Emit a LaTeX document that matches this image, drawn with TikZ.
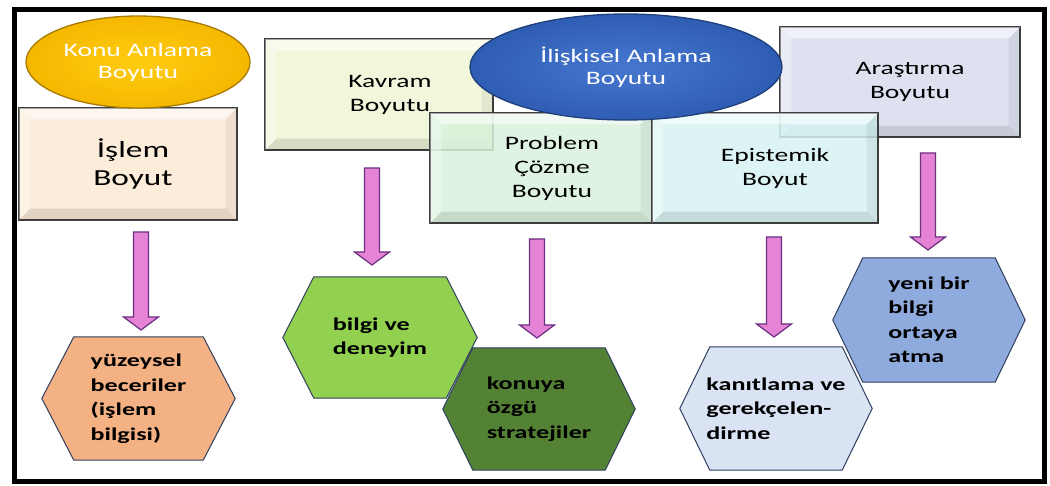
\documentclass[tikz,border=0pt]{standalone}
\usepackage{fontspec}
\setmainfont[FakeStretch=1.45]{Carlito}
\usetikzlibrary{calc,shapes.geometric}
\pgfdeclarelayer{back}
\pgfdeclarelayer{hexbg}
\pgfsetlayers{back,hexbg,main}
\definecolor{boxline}{HTML}{3F3F3F}
\definecolor{islemc}{HTML}{FCE9D4}
\definecolor{kavramc}{HTML}{EEF6D5}
\definecolor{problemc}{HTML}{D9F2DC}
\definecolor{episc}{HTML}{D6F3F3}
\definecolor{arasc}{HTML}{D9DCEE}
\definecolor{yel}{HTML}{F5B800}
\definecolor{yelin}{HTML}{FFCC10}
\definecolor{yelline}{HTML}{A87A00}
\definecolor{blu}{HTML}{2F5DB3}
\definecolor{bluin}{HTML}{4677CF}
\definecolor{bluline}{HTML}{1F3F7A}
\definecolor{arrfill}{HTML}{E584D6}
\definecolor{arrline}{HTML}{6B2E80}
\definecolor{hexa}{HTML}{F4B183}
\definecolor{hexb}{HTML}{92D050}
\definecolor{hexc}{HTML}{548235}
\definecolor{hexd}{HTML}{DAE3F3}
\definecolor{hexe}{HTML}{8FAADC}
\definecolor{hexline}{HTML}{2F3F5F}
\newcommand\bevelof[1]{%
  \fill[white,opacity=0.55] (#1.north west) -- (#1.north east) -- ($(#1.north east)+(-12,12)$) -- ($(#1.north west)+(12,12)$) -- cycle;
  \fill[white,opacity=0.35] (#1.north west) -- ($(#1.north west)+(12,12)$) -- ($(#1.south west)+(12,-12)$) -- (#1.south west) -- cycle;
  \fill[black,opacity=0.10] (#1.south west) -- ($(#1.south west)+(12,-12)$) -- ($(#1.south east)+(-12,-12)$) -- (#1.south east) -- cycle;
  \fill[black,opacity=0.06] (#1.north east) -- (#1.south east) -- ($(#1.south east)+(-12,-12)$) -- ($(#1.north east)+(-12,12)$) -- cycle;
  \draw[boxline,line width=1.2] (#1.north west) rectangle (#1.south east);}
\newcommand\hexof[3]{%
  \begin{pgfonlayer}{hexbg}
  \filldraw[draw=hexline,line width=1,fill=#2] (#1.west) -- ($(#1.north west)+(#3,0)$) -- ($(#1.north east)+(-#3,0)$) -- (#1.east) -- ($(#1.south east)+(-#3,0)$) -- ($(#1.south west)+(#3,0)$) -- cycle;
  \end{pgfonlayer}}
\newcommand\blockarrow[2]{%
  \filldraw[draw=arrline,fill=arrfill,line width=1.2,line join=miter] let \p1=(#1), \p2=(#2) in
   (\x1-7.5pt,\y1) -- (\x1+7.5pt,\y1) -- (\x1+7.5pt,\y2+13pt) -- (\x1+17.5pt,\y2+13pt) -- (\x1,\y2)
   -- (\x1-17.5pt,\y2+13pt) -- (\x1-7.5pt,\y2+13pt) -- cycle;}
\begin{document}
\begin{tikzpicture}[x=1pt,y=-1pt,
  bx/.style={draw=boxline,line width=1.2,fill opacity=0.85,text opacity=1,inner sep=0,align=center,
     font=\fontsize{19}{24}\selectfont,text=black},
  ell/.style={ellipse,draw,line width=1.3,inner sep=0,align=center,text=white,
     font=\fontsize{19}{22}\selectfont},
  hexn/.style={inner sep=0,align=left,font=\bfseries\fontsize{18}{24.5}\selectfont,text=black},
]
\useasboundingbox (0,0) rectangle (1050,486);
\begin{pgfonlayer}{back}
\fill[white] (0,0) rectangle (1050,486);
\end{pgfonlayer}

% boxes
\node[bx,fill=kavramc,minimum width=228,minimum height=111] (kavram) at (379,94.5) {\hspace*{22pt}Kavram\\\hspace*{22pt}Boyutu};
\bevelof{kavram}
\node[bx,fill=islemc,minimum width=218,minimum height=112,font=\fontsize{23}{28}\selectfont] (islem) at (128,164) {\hspace*{10pt}İşlem\\\hspace*{10pt}Boyut};
\bevelof{islem}
\node[bx,fill=arasc,minimum width=240,minimum height=110] (aras) at (900,82) {\hspace*{20pt}Araştırma\\\hspace*{20pt}Boyutu};
\bevelof{aras}
\node[bx,fill=problemc,minimum width=222,minimum height=110] (problem) at (541,168) {\hspace*{22pt}Problem\\\hspace*{22pt}Çözme\\\hspace*{22pt}Boyutu};
\bevelof{problem}
\node[bx,fill=episc,minimum width=226,minimum height=110] (epis) at (765,168) {\hspace*{20pt}Epistemik\\\hspace*{20pt}Boyut};
\bevelof{epis}

% ellipses
\node[ell,draw=yelline,inner color=yelin,outer color=yel,minimum width=224,minimum height=92] (konu) at (138,62) {Konu Anlama\\Boyutu};
\node[ell,draw=bluline,inner color=bluin,outer color=blu,minimum width=312,minimum height=106] (iliskisel) at (626,67) {İlişkisel Anlama\\Boyutu};

% hexagons
\node[hexn,minimum width=193,minimum height=123] (h1) at (138.5,398.5) {yüzeysel\\beceriler\\(işlem\\bilgisi)};
\hexof{h1}{hexa}{32}
\node[hexn,minimum width=194,minimum height=121] (h2) at (380,337.5) {bilgi ve\\deneyim};
\hexof{h2}{hexb}{31}
\node[hexn,minimum width=192,minimum height=122] (h3) at (539,409) {konuya\\özgü\\stratejiler};
\hexof{h3}{hexc}{30}
\node[hexn,minimum width=192,minimum height=123] (h4) at (776,408.5) {kanıtlama ve\\gerekçelen-\\dirme};
\hexof{h4}{hexd}{30}
\node[hexn,minimum width=192,minimum height=124] (h5) at (929,320) {yeni bir\\bilgi\\ortaya\\atma};
\hexof{h5}{hexe}{30}

% arrows
\coordinate (a1s) at (141,232); \coordinate (a1e) at (141,330);
\coordinate (a2s) at (372,168); \coordinate (a2e) at (372,265);
\coordinate (a3s) at (537,239); \coordinate (a3e) at (537,338);
\coordinate (a4s) at (774,237); \coordinate (a4e) at (774,337);
\coordinate (a5s) at (928,153); \coordinate (a5e) at (928,250);
\blockarrow{a1s}{a1e}
\blockarrow{a2s}{a2e}
\blockarrow{a3s}{a3e}
\blockarrow{a4s}{a4e}
\blockarrow{a5s}{a5e}

% frame
\draw[line width=5] (14,10) rectangle (1044,481);
\end{tikzpicture}
\end{document}
